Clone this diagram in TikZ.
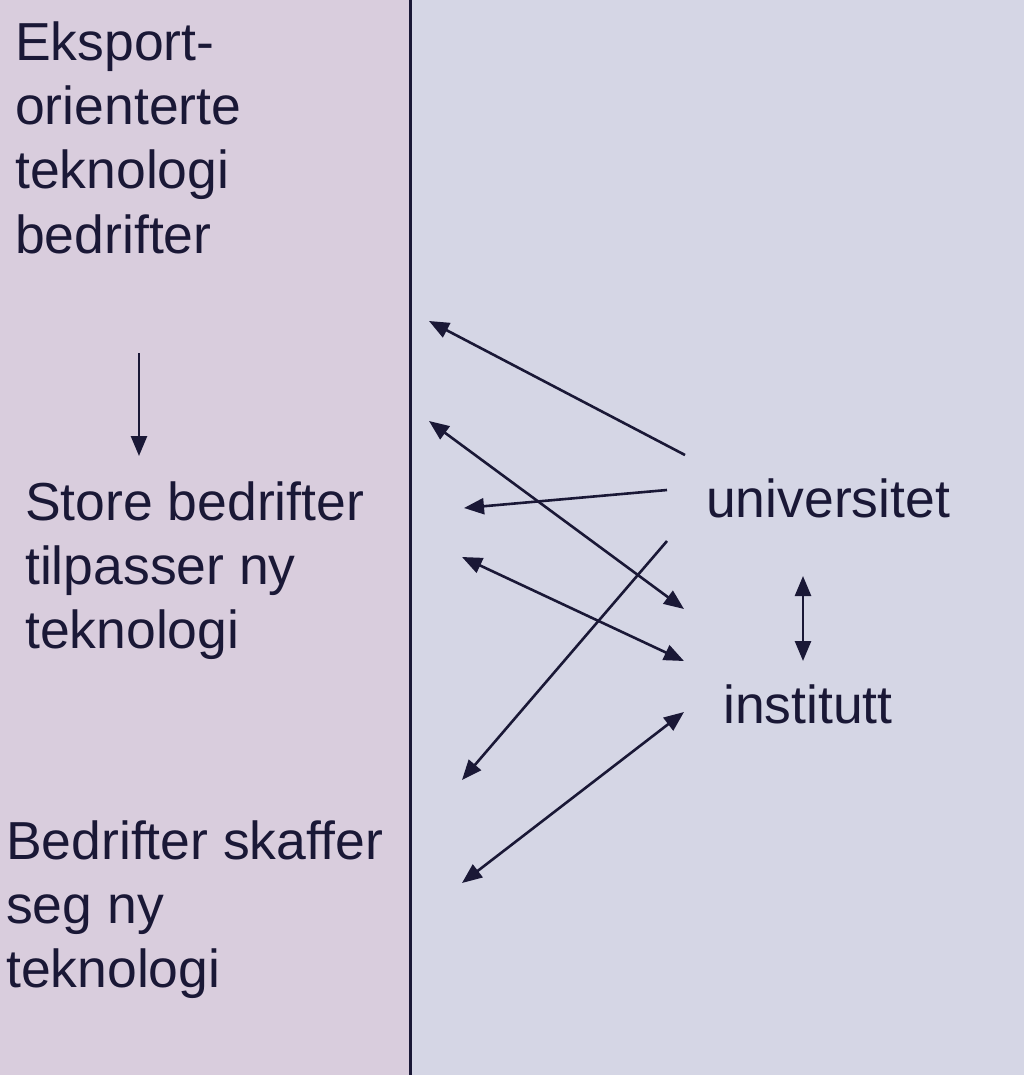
\documentclass[tikz,border=0pt]{standalone}
\usepackage{fontspec}
\setmainfont{Liberation Sans}[Ligatures=NoCommon]
\usetikzlibrary{arrows.meta}

\definecolor{leftpanel}{HTML}{D9CDDD}
\definecolor{rightpanel}{HTML}{D5D6E5}
\definecolor{ink}{HTML}{1A1836}

\tikzset{
  blocktext/.style={anchor=base west, inner sep=0pt, align=left, text=ink, font=\fontsize{53.5}{64}\selectfont},
  onehead/.style={draw=ink, line width=2.6pt, -{Triangle[length=20pt,width=16pt]}},
  twohead/.style={draw=ink, line width=2.6pt, {Triangle[length=20pt,width=16pt]}-{Triangle[length=20pt,width=16pt]}}
}

\begin{document}
\begin{tikzpicture}[x=1pt,y=-1pt]

\useasboundingbox (0,0) rectangle (1024,1075);

%the two panels and the line between them
\fill [leftpanel] (0,0) rectangle (410,1075);
\fill [rightpanel] (410,0) rectangle (1024,1075);
\draw [ink, line width=3pt] (410,0)--(410,1075); % divider

%texts on the left (placed at the baseline of their last line)
\node [blocktext] (eksport) at (15,253) {Eksport-\\orienterte\\teknologi\\bedrifter};
\node [blocktext] (store) at (25,648) {Store bedrifter\\tilpasser ny\\teknologi};
\node [blocktext] (skaffer) at (6,987) {Bedrifter skaffer\\seg ny\\teknologi};

%texts on the right
\node [blocktext] (univ) at (706,517) {universitet};
\node [blocktext] (inst) at (723,723) {institutt};

%end points of the arrows
\coordinate (e top) at (139,353);
\coordinate (e bot) at (139,456);
\coordinate (l1) at (429,321);
\coordinate (l2) at (429,421);
\coordinate (l3) at (464,508);
\coordinate (l4) at (462,557);
\coordinate (l5) at (462,780);
\coordinate (l6) at (462,883);
\coordinate (u1) at (685,455);
\coordinate (u2) at (667,490);
\coordinate (u3) at (667,541);
\coordinate (i1) at (684,609);
\coordinate (i2) at (684,661);
\coordinate (i3) at (684,712);
\coordinate (ui top) at (803,576);
\coordinate (ui bot) at (803,661);

%arrows
\draw [onehead] (e top)--(e bot); % down arrow on the left
\draw [onehead] (u1)--(l1);
\draw [twohead] (l2)--(i1);
\draw [onehead] (u2)--(l3);
\draw [twohead] (l4)--(i2);
\draw [onehead] (u3)--(l5);
\draw [twohead] (l6)--(i3);
\draw [twohead] (ui top)--(ui bot); % universitet <-> institutt

\end{tikzpicture}
\end{document}
